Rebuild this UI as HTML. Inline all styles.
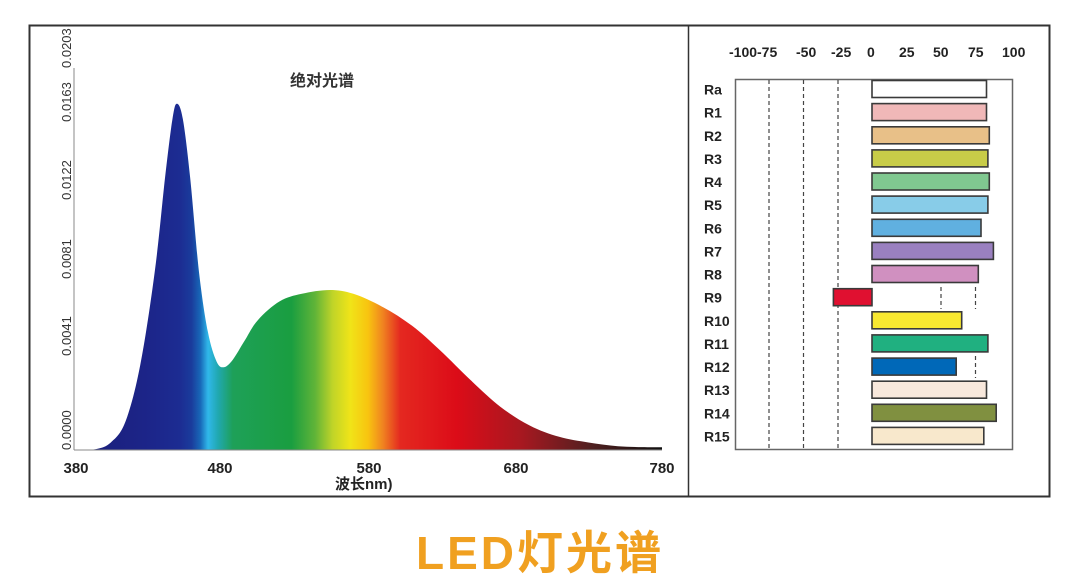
<!DOCTYPE html>
<html><head><meta charset="utf-8">
<style>
html,body{margin:0;padding:0;background:#fff;}
body{width:1080px;height:585px;overflow:hidden;position:relative;font-family:"Liberation Sans","Noto Sans CJK SC",sans-serif;}
</style></head>
<body>
<svg width="1080" height="585" viewBox="0 0 1080 585" xmlns="http://www.w3.org/2000/svg" style="position:absolute;left:0;top:0">
<defs>
<linearGradient id="spec" gradientUnits="userSpaceOnUse" x1="74" y1="0" x2="662" y2="0">
<stop offset="0" stop-color="#1a1f78"/>
<stop offset="0.12" stop-color="#1c2488"/>
<stop offset="0.18" stop-color="#1c2c92"/>
<stop offset="0.2" stop-color="#1a3c9c"/>
<stop offset="0.215" stop-color="#1868b8"/>
<stop offset="0.228" stop-color="#30b8ea"/>
<stop offset="0.245" stop-color="#20a8b0"/>
<stop offset="0.27" stop-color="#1ea058"/>
<stop offset="0.37" stop-color="#1a9e40"/>
<stop offset="0.41" stop-color="#60b438"/>
<stop offset="0.44" stop-color="#c0d428"/>
<stop offset="0.47" stop-color="#f0e418"/>
<stop offset="0.5" stop-color="#f8c410"/>
<stop offset="0.525" stop-color="#f08420"/>
<stop offset="0.555" stop-color="#e42820"/>
<stop offset="0.65" stop-color="#dc0c18"/>
<stop offset="0.76" stop-color="#a81820"/>
<stop offset="0.88" stop-color="#502020"/>
<stop offset="1" stop-color="#101010"/>
</linearGradient>
</defs>
<rect x="29.5" y="25.5" width="1020" height="471" fill="none" stroke="#333" stroke-width="2"/>
<line x1="688.5" y1="25" x2="688.5" y2="497" stroke="#333" stroke-width="1.5"/>
<path id="sp" fill="url(#spec)" d=""/>
<line x1="74" y1="68" x2="74" y2="450" stroke="#888" stroke-width="1"/>
<line x1="74" y1="450" x2="662" y2="450" stroke="#888" stroke-width="1"/>
<g font-size="13" fill="#333" text-anchor="middle">
<text transform="translate(71,450) rotate(-90)" text-anchor="start" x="0" y="0">0.0000</text>
<text transform="translate(71,336) rotate(-90)">0.0041</text>
<text transform="translate(71,259) rotate(-90)">0.0081</text>
<text transform="translate(71,180) rotate(-90)">0.0122</text>
<text transform="translate(71,102) rotate(-90)">0.0163</text>
<text transform="translate(71,68) rotate(-90)" text-anchor="start">0.0203</text>
</g>
<g font-size="15" font-weight="bold" fill="#222" text-anchor="middle">
<text x="76" y="473">380</text>
<text x="220" y="473">480</text>
<text x="369" y="473">580</text>
<text x="516" y="473">680</text>
<text x="662" y="473">780</text>
</g>
<text x="335" y="489" font-size="15" font-weight="bold" fill="#222">波长nm)</text>
<text x="290" y="86" font-size="16" font-weight="bold" fill="#333">绝对光谱</text>
<g font-size="14" font-weight="bold" fill="#222">
<text x="729" y="57">-100-75</text>
<text x="796" y="57">-50</text>
<text x="831" y="57">-25</text>
<text x="867" y="57">0</text>
<text x="899" y="57">25</text>
<text x="933" y="57">50</text>
<text x="968" y="57">75</text>
<text x="1002" y="57">100</text>
</g>
<rect x="735.5" y="79.5" width="277" height="370" fill="none" stroke="#666" stroke-width="1.5"/>
<g stroke="#444" stroke-width="1.2" stroke-dasharray="4,3">
<line x1="769" y1="80" x2="769" y2="449"/>
<line x1="803.5" y1="80" x2="803.5" y2="449"/>
<line x1="838" y1="80" x2="838" y2="449"/>
<line x1="941" y1="287" x2="941" y2="309"/>
<line x1="975.5" y1="287" x2="975.5" y2="309"/>
<line x1="975.5" y1="356" x2="975.5" y2="378"/>
</g>
<g id="bars"></g>
</svg>
<div style="position:absolute;left:0;width:1080px;top:525px;text-align:center;font-size:46px;font-weight:bold;color:#f0a020;letter-spacing:3px;font-family:'Liberation Sans','Noto Sans CJK SC',sans-serif;line-height:56px">LED灯光谱</div>
<script>
var pts=[[380,0],[395,0.00005],[405,0.0004],[415,0.0015],[425,0.0045],[435,0.0095],[442,0.0145],[447,0.0176],[450,0.0184],[454,0.0176],[459,0.0145],[465,0.0095],[471,0.0063],[477,0.0047],[482,0.0044],[488,0.0048],[496,0.0058],[505,0.0069],[520,0.0079],[535,0.0083],[554,0.0085],[570,0.0083],[590,0.0076],[610,0.0066],[629,0.0053],[650,0.0037],[670,0.0023],[690,0.0013],[710,0.0007],[730,0.0004],[750,0.0002],[770,0.00015],[780,0.00015]];
function X(l){return 74+(l-380)*1.47;}function Y(v){return 450-v/0.0203*382;}
var P=pts.map(function(p){return [X(p[0]),Y(p[1])];});
var d="M"+P[0][0]+","+P[0][1];
for(var i=0;i<P.length-1;i++){var p0=P[Math.max(0,i-1)],p1=P[i],p2=P[i+1],p3=P[Math.min(P.length-1,i+2)];
var c1=[p1[0]+(p2[0]-p0[0])/6,p1[1]+(p2[1]-p0[1])/6],c2=[p2[0]-(p3[0]-p1[0])/6,p2[1]-(p3[1]-p1[1])/6];
d+=" C"+c1[0].toFixed(1)+","+c1[1].toFixed(1)+" "+c2[0].toFixed(1)+","+c2[1].toFixed(1)+" "+p2[0].toFixed(1)+","+p2[1].toFixed(1);}
d+=" L662,450 L74,450 Z";
document.getElementById("sp").setAttribute("d",d);
var bars=[["Ra",83,"#ffffff"],["R1",83,"#f0b8b8"],["R2",85,"#e8c088"],["R3",84,"#c8cc48"],["R4",85,"#80c890"],["R5",84,"#88cce8"],["R6",79,"#60b0e0"],["R7",88,"#9a80c0"],["R8",77,"#d090c0"],["R9",-28,"#e01030"],["R10",65,"#f8e830"],["R11",84,"#20b080"],["R12",61,"#0068b8"],["R13",83,"#f8e8dc"],["R14",90,"#809040"],["R15",81,"#f8e8cc"]];
var g=document.getElementById("bars"),s="";
bars.forEach(function(b,i){var y=80.5+i*23.13;var x0=872,x1=872+b[1]*1.38;var l=Math.min(x0,x1),w=Math.abs(x1-x0);
s+='<rect x="'+l.toFixed(1)+'" y="'+y.toFixed(1)+'" width="'+w.toFixed(1)+'" height="17" fill="'+b[2]+'" stroke="#3a3a3a" stroke-width="1.6"/>';
s+='<text x="704" y="'+(y+14).toFixed(1)+'" font-size="14" font-weight="bold" fill="#222">'+b[0]+'</text>';});
g.innerHTML=s;
</script>
</body></html>
